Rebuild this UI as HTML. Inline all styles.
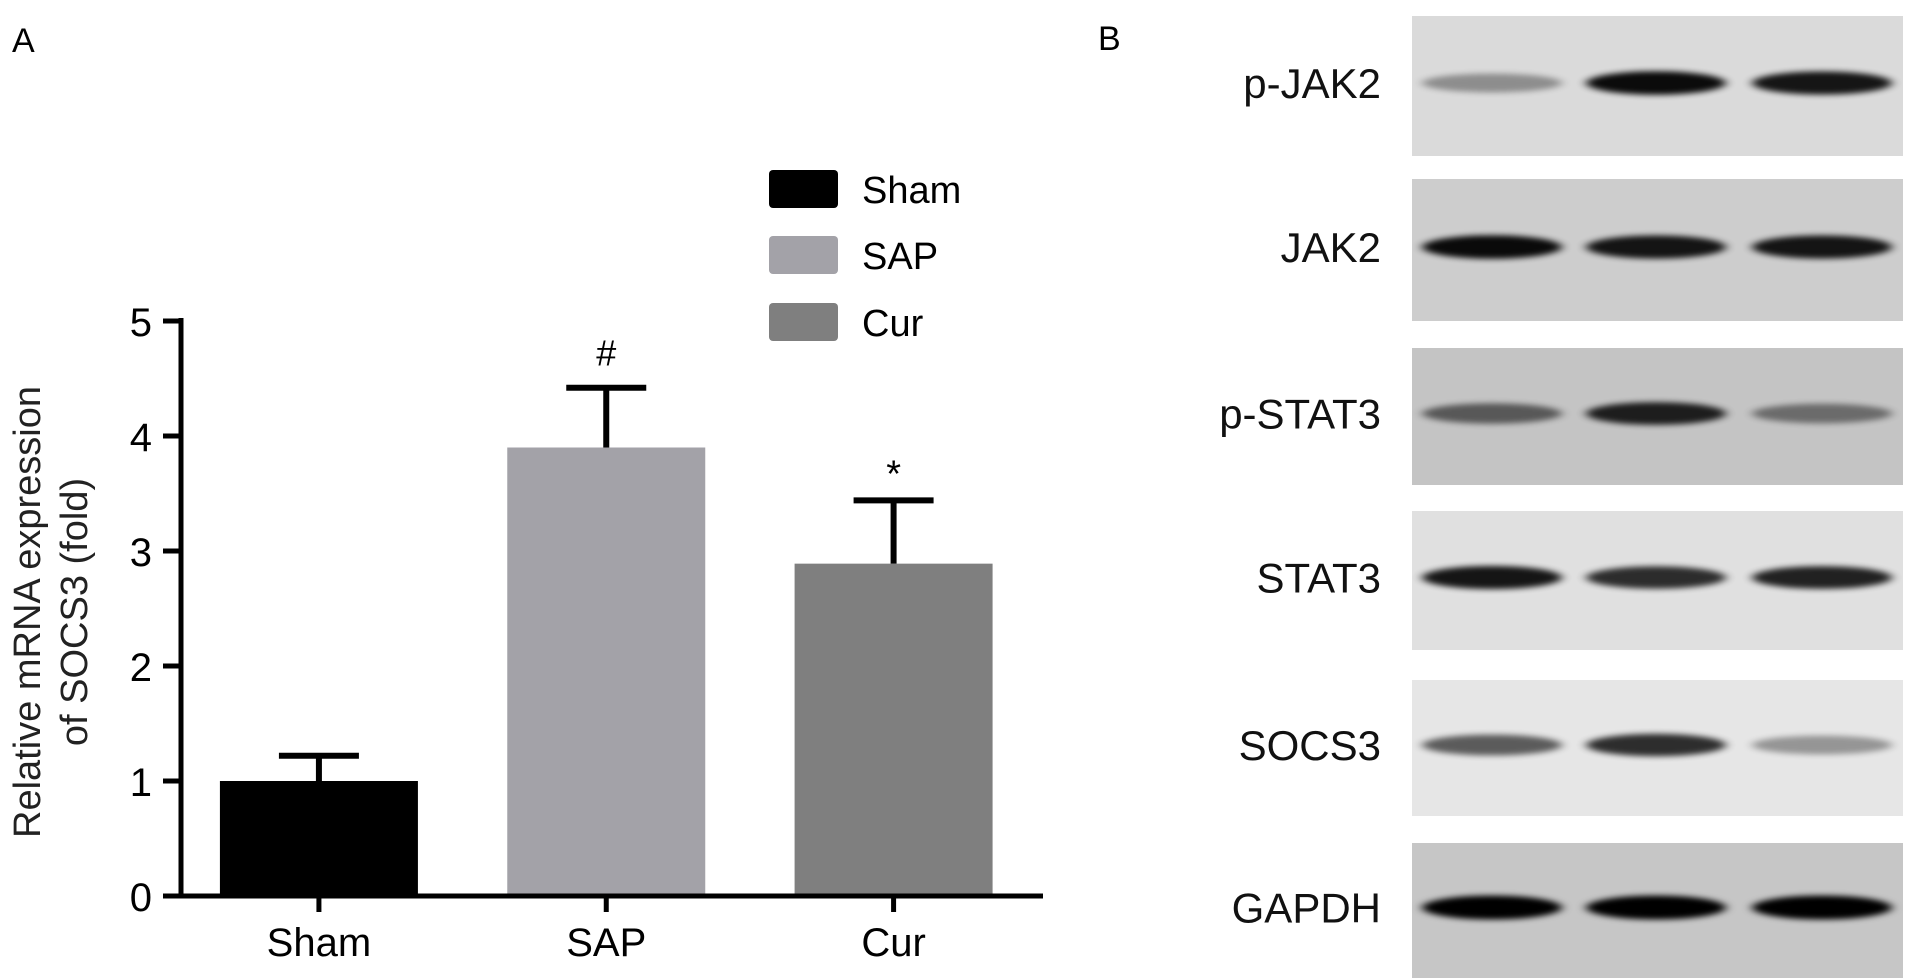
<!DOCTYPE html>
<html><head><meta charset="utf-8"><style>
html,body{margin:0;padding:0;background:#fff;}
svg{display:block;font-family:"Liberation Sans",Arial,sans-serif;}
</style></head><body>
<svg id="fig" width="1905" height="978" viewBox="0 0 1905 978">
<defs>
<filter id="blur" x="-20%" y="-100%" width="140%" height="300%"><feGaussianBlur stdDeviation="5 3"/></filter>
</defs>
<text x="12" y="52" font-size="34">A</text>
<text x="1098" y="50" font-size="34">B</text>
<g id="chart"></g>
<g id="blots"></g>
</svg>
<script>
const categories = ["Sham", "SAP", "Cur"];
const values = [1.0, 3.9, 2.89];
const errors = [0.22, 0.52, 0.55];
const colors = ["#000000", "#a3a2a8", "#7f7f7f"];
const yTicks = [0, 1, 2, 3, 4, 5];
const marks = ["", "#", "*"];

const NS = "http://www.w3.org/2000/svg";
function mk(tag, attrs, parent, text) {
  const e = document.createElementNS(NS, tag);
  for (const k in attrs) e.setAttribute(k, attrs[k]);
  if (text !== undefined) e.textContent = text;
  parent.appendChild(e);
  return e;
}
const chart = document.getElementById("chart");
const X0 = 181, X1 = 1043, Y0 = 896, Y5 = 321;
const y = v => Y0 - (Y0 - Y5) * v / 5;
const band = (X1 - X0) / categories.length;
const xc = i => X0 + band * (i + 0.48);
const barW = 198;

categories.forEach((c, i) => {
  const r = mk("rect", {x: xc(i) - barW/2, y: y(values[i]), width: barW, height: Y0 - y(values[i]), fill: colors[i]}, chart);
  
  
  const e = mk("path", {d: `M${xc(i)} ${y(values[i])}V${y(values[i]+errors[i])}M${xc(i)-40} ${y(values[i]+errors[i])}H${xc(i)+40}`, stroke: "#000", "stroke-width": 6, fill: "none"}, chart);
  
  
  if (marks[i]) {
    const m = mk("text", {x: xc(i), y: y(values[i]+errors[i]) - (marks[i]==="*"?14:22), "font-size": marks[i]==="*"?38:36, "text-anchor": "middle"}, chart, marks[i]);
    
    
  }
  const t = mk("text", {x: xc(i), y: 956, "font-size": 40, "text-anchor": "middle"}, chart, c);
  
  
  const tk = mk("line", {x1: xc(i), x2: xc(i), y1: Y0, y2: Y0 + 16, stroke: "#000", "stroke-width": 5}, chart);
  
  
});
const ax = mk("path", {d: `M${X0} ${Y5-3}V${Y0}H${X1}`, stroke: "#000", "stroke-width": 5, fill: "none"}, chart);


yTicks.forEach(v => {
  const l = mk("line", {x1: X0 - 18, x2: X0, y1: y(v), y2: y(v), stroke: "#000", "stroke-width": 5}, chart);
  
  
  const t = mk("text", {x: 152, y: y(v) + 15, "font-size": 40, "text-anchor": "end"}, chart, String(v));
  
  
});
const yt = mk("text", {transform: "translate(40,612) rotate(-90)", "font-size": 38, "text-anchor": "middle", fill: "#222"}, chart);


mk("tspan", {x: 0, y: 0}, yt, "Relative mRNA expression");
mk("tspan", {x: 0, dy: 47}, yt, "of SOCS3 (fold)");
const legY = [170, 236, 303];
categories.forEach((c, i) => {
  const r = mk("rect", {x: 769, y: legY[i], width: 69, height: 38, rx: 4, fill: colors[i]}, chart);
  
  
  const t = mk("text", {x: 862, y: legY[i] + 33, "font-size": 38}, chart, c);
  
  
});

const proteins = ["p-JAK2", "JAK2", "p-STAT3", "STAT3", "SOCS3", "GAPDH"];
const panelTop = [16, 179, 348, 511, 680, 843];
const panelBot = [156, 321, 485, 650, 816, 978];
const panelBg = ["#dadada", "#cdcdcd", "#c4c4c4", "#e0e0e0", "#e6e6e6", "#c6c6c6"];
const bandDark = [[0.35, 0.95, 0.9], [0.95, 0.9, 0.9], [0.55, 0.85, 0.45], [0.9, 0.8, 0.85], [0.6, 0.8, 0.35], [1, 1, 1]];
const laneX = [1492, 1656, 1822];
const blots = document.getElementById("blots");
proteins.forEach((p, r) => {
  const bg = mk("rect", {x: 1412, y: panelTop[r], width: 491, height: panelBot[r] - panelTop[r], fill: panelBg[r]}, blots);
  
  
  const cy = (panelTop[r] + panelBot[r]) / 2 - 3;
  laneX.forEach((lx, l) => {
    const b = mk("ellipse", {cx: lx, cy: cy, rx: 70, ry: 8 + 4 * bandDark[r][l], fill: "#000", opacity: bandDark[r][l], filter: "url(#blur)"}, blots);
    
    
  });
  const t = mk("text", {x: 1381, y: cy + 15, "font-size": 42, "text-anchor": "end", fill: "#111"}, blots, p);
  
  
});
</script>
</body></html>
